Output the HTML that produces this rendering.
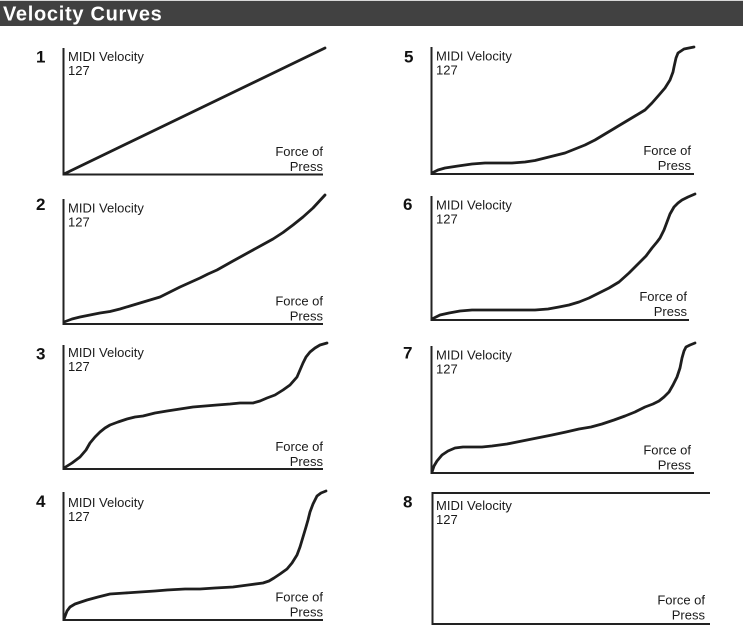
<!DOCTYPE html>
<html>
<head>
<meta charset="utf-8">
<style>
html,body{margin:0;padding:0;background:#fff;}
svg{display:block;}
text{font-family:"Liberation Sans",Arial,sans-serif;}
.m{font-size:13px;fill:#1a1a1a;}
.n{font-size:17px;font-weight:bold;fill:#111;}
.ax{stroke:#222;stroke-width:2;fill:none;}
.cv{stroke:#1e1e1e;stroke-width:2.8;fill:none;stroke-linejoin:round;stroke-linecap:round;}
</style>
</head>
<body>
<svg width="743" height="627" viewBox="0 0 743 627" xmlns="http://www.w3.org/2000/svg">
<rect x="0" y="0" width="743" height="1" fill="#d8d8d8"/>
<rect x="0" y="1" width="743" height="25" fill="#414141"/>
<text x="3" y="20.5" font-size="20" font-weight="bold" fill="#fff" letter-spacing="0.7">Velocity Curves</text>

<!-- Panel 1 -->
<text class="n" x="36" y="62.5">1</text>
<path class="ax" d="M63.5 48 V174.5 H323"/>
<text class="m" x="68" y="61">MIDI Velocity</text>
<text class="m" x="68" y="75">127</text>
<text class="m" x="323" y="156" text-anchor="end">Force of</text>
<text class="m" x="323" y="171" text-anchor="end">Press</text>
<path class="cv" d="M64 174 L325 48"/>

<!-- Panel 2 -->
<text class="n" x="36" y="210">2</text>
<path class="ax" d="M63.5 199 V324 H323"/>
<text class="m" x="68" y="212.5">MIDI Velocity</text>
<text class="m" x="68" y="226.5">127</text>
<text class="m" x="323" y="305.5" text-anchor="end">Force of</text>
<text class="m" x="323" y="320.5" text-anchor="end">Press</text>
<polyline class="cv" points="64,322 72,319 80,317 90,315 100,313 110,311.5 120,309 130,306 140,303 150,300 160,297 170,292 180,287 190,282.5 200,278 208,274 217,270 225,265.5 233,261 243,255.5 253,250 263,244.5 273,239 283,232.5 293,225 303,217 313,208 319,201.5 325,195"/>

<!-- Panel 3 -->
<text class="n" x="36" y="359.5">3</text>
<path class="ax" d="M63.5 345 V469 H323"/>
<text class="m" x="68" y="357">MIDI Velocity</text>
<text class="m" x="68" y="371">127</text>
<text class="m" x="323" y="451" text-anchor="end">Force of</text>
<text class="m" x="323" y="466" text-anchor="end">Press</text>
<polyline class="cv" points="64,468 72,463 80,457 86,450 90,443 95,437 100,432 105,428 110,425 118,422 127,419 135,417 143,416 155,413 167,411 180,409 193,407 205,406 217,405 230,404 240,403 253,403 260,401 267,398 275,395 283,390 290,385 297,377 300,370 303,363 306,357 310,352 315,348 320,345 327,343"/>

<!-- Panel 4 -->
<text class="n" x="36" y="507">4</text>
<path class="ax" d="M63.5 492 V620 H323"/>
<text class="m" x="68" y="507">MIDI Velocity</text>
<text class="m" x="68" y="521">127</text>
<text class="m" x="323" y="601.5" text-anchor="end">Force of</text>
<text class="m" x="323" y="616.5" text-anchor="end">Press</text>
<polyline class="cv" points="64,619 67,611 70,607 75,604 87,600 98,597 110,594 125,593 140,592 155,591 167,590 185,589 200,589 215,588 233,587 248,585 263,583 269,581 274,578 280,574 287,569 292,563 297,555 300,547 303,537 306,527 308,520 310,512 313,504 317,496 321,493 326,491"/>

<!-- Panel 5 -->
<text class="n" x="404" y="62.7">5</text>
<path class="ax" d="M431.5 47 V174 H694"/>
<text class="m" x="436" y="60.5">MIDI Velocity</text>
<text class="m" x="436" y="74.5">127</text>
<text class="m" x="691" y="155" text-anchor="end">Force of</text>
<text class="m" x="691" y="170" text-anchor="end">Press</text>
<polyline class="cv" points="432,173 438,170 445,168 458,166 472,164 485,163 499,163 512,163 525,162 535,160.5 545,158 555,155.5 565,153 575,149 585,145 595,140 605,134 615,128 625,122 635,116 645,110 652,103 659,95 665,88 670,80 673,72 674,67 676,58 678,53 684,49 694,47"/>

<!-- Panel 6 -->
<text class="n" x="403" y="210">6</text>
<path class="ax" d="M431.5 196 V320 H689"/>
<text class="m" x="436" y="209.5">MIDI Velocity</text>
<text class="m" x="436" y="223.5">127</text>
<text class="m" x="687" y="301" text-anchor="end">Force of</text>
<text class="m" x="687" y="316" text-anchor="end">Press</text>
<polyline class="cv" points="432,319 440,315 449,313 460,311 472,310 488,310 505,310 520,310 535,310 548,309 559,307 569,305 579,302 589,298 599,293 609,288 619,282 629,273 639,263 646,256 652,248 657,242 660,238 664,230 667,222 670,214 674,207 678,203 682,200 688,197 695,194"/>

<!-- Panel 7 -->
<text class="n" x="403" y="358.5">7</text>
<path class="ax" d="M431.5 346 V473 H694"/>
<text class="m" x="436" y="359.5">MIDI Velocity</text>
<text class="m" x="436" y="373.5">127</text>
<text class="m" x="691" y="454.5" text-anchor="end">Force of</text>
<text class="m" x="691" y="469.5" text-anchor="end">Press</text>
<polyline class="cv" points="432,472 434,466 437,461 442,455 448,451 455,448 463,447 472,447 482,447 492,446 507,444 522,441 537,438 552,435 566,432 579,429 591,427 602,424 614,420 625,416 635,412 645,407 653,404 659,401 664,397 669,392 673,385 677,377 680,368 682,358 684,351 686,347 690,345 695,343"/>

<!-- Panel 8 -->
<text class="n" x="403" y="507.5">8</text>
<path class="ax" d="M710 493 H432.5 V624 H710"/>
<text class="m" x="436" y="510">MIDI Velocity</text>
<text class="m" x="436" y="524">127</text>
<text class="m" x="705" y="604.5" text-anchor="end">Force of</text>
<text class="m" x="705" y="619.5" text-anchor="end">Press</text>
</svg>
</body>
</html>
